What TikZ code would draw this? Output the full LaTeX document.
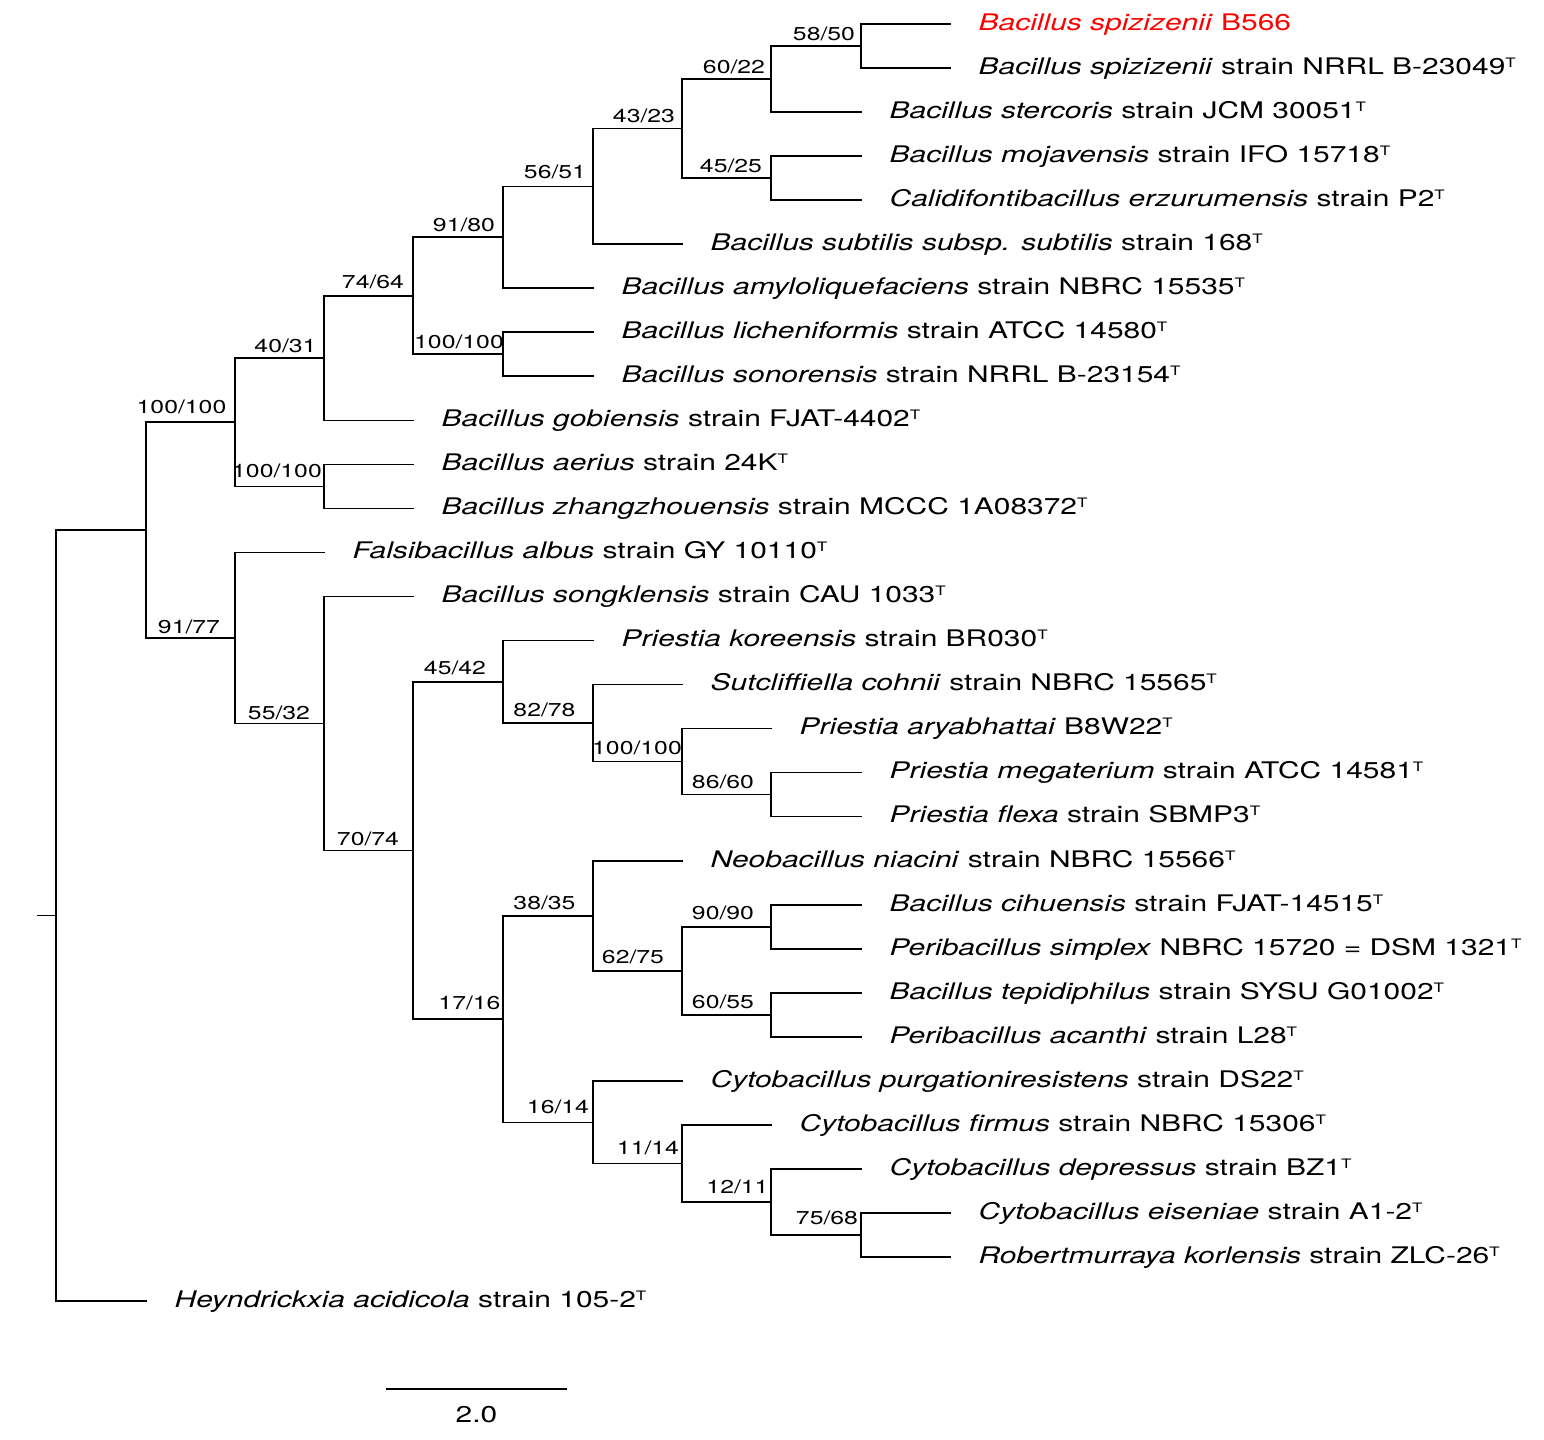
\documentclass[tikz,border=0pt]{standalone}
\usepackage{fontspec}
\setmainfont[FakeStretch=1.31]{TeX Gyre Heros}
\newfontfamily\bootfont[FakeStretch=1.33]{TeX Gyre Heros}
\usetikzlibrary{positioning}
\definecolor{focusred}{RGB}{255,0,0}
\tikzstyle{branch} = [line width=0.45pt, line cap=rect]
\tikzstyle{taxon} = [anchor=west, inner sep=0pt, text height=0.166cm, text depth=0.04cm, font=\fontsize{6.5}{7}\selectfont]
\tikzstyle{boot} = [anchor=base, inner sep=0pt, font=\bootfont\fontsize{5.3}{6}\selectfont]
\newcommand{\typestr}{\raisebox{2pt}{\fontsize{3.7}{4}\selectfont T}}

\begin{document}
\begin{tikzpicture}[x=0.01cm, y=-0.01cm, node distance=0.28cm]
\useasboundingbox (0,0) rectangle (1544,1440);

% tips
\coordinate (tip1) at (950,24);
\coordinate (tip2) at (950,68);
\coordinate (tip3) at (861,112.1);
\coordinate (tip4) at (861,156.1);
\coordinate (tip5) at (861,200.2);
\coordinate (tip6) at (682,244.2);
\coordinate (tip7) at (593,288.2);
\coordinate (tip8) at (593,332.3);
\coordinate (tip9) at (593,376.3);
\coordinate (tip10) at (413,420.4);
\coordinate (tip11) at (413,464.4);
\coordinate (tip12) at (413,508.4);
\coordinate (tip13) at (324,552.5);
\coordinate (tip14) at (413,596.5);
\coordinate (tip15) at (593,640.6);
\coordinate (tip16) at (682,684.6);
\coordinate (tip17) at (771,728.6);
\coordinate (tip18) at (861,772.7);
\coordinate (tip19) at (861,816.7);
\coordinate (tip20) at (682,860.8);
\coordinate (tip21) at (861,904.8);
\coordinate (tip22) at (861,948.8);
\coordinate (tip23) at (861,992.9);
\coordinate (tip24) at (861,1036.9);
\coordinate (tip25) at (682,1081);
\coordinate (tip26) at (771,1125);
\coordinate (tip27) at (861,1169);
\coordinate (tip28) at (950,1213.1);
\coordinate (tip29) at (950,1257.1);
\coordinate (tip30) at (146,1301.2);

% inner nodes
\coordinate (n1) at (861,46);
\coordinate (n2) at (771,79);
\coordinate (n3) at (771,178.2);
\coordinate (n4) at (682,128.6);
\coordinate (n5) at (593,186.4);
\coordinate (n6) at (503,237.3);
\coordinate (n7) at (503,354.3);
\coordinate (n8) at (413,295.8);
\coordinate (n9) at (324,358.1);
\coordinate (n10) at (324,486.4);
\coordinate (n11) at (235,422.2);
\coordinate (n12) at (771,794.7);
\coordinate (n13) at (682,761.7);
\coordinate (n14) at (593,723.1);
\coordinate (n15) at (503,681.9);
\coordinate (n16) at (771,926.8);
\coordinate (n17) at (771,1014.9);
\coordinate (n18) at (682,970.8);
\coordinate (n19) at (593,915.8);
\coordinate (n20) at (861,1235.1);
\coordinate (n21) at (771,1202.1);
\coordinate (n22) at (682,1163.6);
\coordinate (n23) at (593,1122.3);
\coordinate (n24) at (503,1019);
\coordinate (n25) at (413,850.5);
\coordinate (n26) at (324,723.5);
\coordinate (n27) at (235,638);
\coordinate (n28) at (146,530.1);
\coordinate (root) at (56,915.6);
\coordinate (stub) at (38,915.6);

% branches
\draw[branch] (tip1) -| (n1) |- (tip2);
\draw[branch] (n1) -| (n2) |- (tip3);
\draw[branch] (tip4) -| (n3) |- (tip5);
\draw[branch] (n2) -| (n4) |- (n3);
\draw[branch] (n4) -| (n5) |- (tip6);
\draw[branch] (n5) -| (n6) |- (tip7);
\draw[branch] (tip8) -| (n7) |- (tip9);
\draw[branch] (n6) -| (n8) |- (n7);
\draw[branch] (n8) -| (n9) |- (tip10);
\draw[branch] (tip11) -| (n10) |- (tip12);
\draw[branch] (n9) -| (n11) |- (n10);
\draw[branch] (tip18) -| (n12) |- (tip19);
\draw[branch] (tip17) -| (n13) |- (n12);
\draw[branch] (tip16) -| (n14) |- (n13);
\draw[branch] (tip15) -| (n15) |- (n14);
\draw[branch] (tip21) -| (n16) |- (tip22);
\draw[branch] (tip23) -| (n17) |- (tip24);
\draw[branch] (n16) -| (n18) |- (n17);
\draw[branch] (tip20) -| (n19) |- (n18);
\draw[branch] (tip28) -| (n20) |- (tip29);
\draw[branch] (tip27) -| (n21) |- (n20);
\draw[branch] (tip26) -| (n22) |- (n21);
\draw[branch] (tip25) -| (n23) |- (n22);
\draw[branch] (n19) -| (n24) |- (n23);
\draw[branch] (n15) -| (n25) |- (n24);
\draw[branch] (tip14) -| (n26) |- (n25);
\draw[branch] (tip13) -| (n27) |- (n26);
\draw[branch] (n11) -| (n28) |- (n27);
\draw[branch] (n28) -| (root) |- (tip30);
\draw[branch] (stub) -- (root);

% bootstrap values
\node[boot] (bs1) at (824,41) {58/50};
\node[boot] (bs2) at (734,74) {60/22};
\node[boot] (bs3) at (731,173) {45/25};
\node[boot] (bs4) at (644,123) {43/23};
\node[boot] (bs5) at (555,178.5) {56/51};
\node[boot] (bs6) at (464,232) {91/80};
\node[boot] (bs7) at (459,348.5) {100/100};
\node[boot] (bs8) at (373,288.5) {74/64};
\node[boot] (bs9) at (285.5,352.5) {40/31};
\node[boot] (bs10) at (277,478) {100/100};
\node[boot] (bs11) at (181.5,413.5) {100/100};
\node[boot] (bs12) at (723,788.5) {86/60};
\node[boot] (bs13) at (637,755) {100/100};
\node[boot] (bs14) at (544.5,716.7) {82/78};
\node[boot] (bs15) at (455,675) {45/42};
\node[boot] (bs16) at (723,920) {90/90};
\node[boot] (bs17) at (723,1008.3) {60/55};
\node[boot] (bs18) at (633,963.5) {62/75};
\node[boot] (bs19) at (544.5,909.3) {38/35};
\node[boot] (bs20) at (827,1225) {75/68};
\node[boot] (bs21) at (737.5,1193.3) {12/11};
\node[boot] (bs22) at (648,1155) {11/14};
\node[boot] (bs23) at (558,1113.3) {16/14};
\node[boot] (bs24) at (469.5,1010) {17/16};
\node[boot] (bs25) at (368,846) {70/74};
\node[boot] (bs26) at (279,719.3) {55/32};
\node[boot] (bs27) at (189,633.3) {91/77};

% taxa
\node[taxon, right=of tip1, text=focusred] (tax1) {\textit{Bacillus spizizenii} B566};
\node[taxon, right=of tip2] (tax2) {\textit{Bacillus spizizenii} strain NRRL B-23049\typestr};
\node[taxon, right=of tip3] (tax3) {\textit{Bacillus stercoris} strain JCM 30051\typestr};
\node[taxon, right=of tip4] (tax4) {\textit{Bacillus mojavensis} strain IFO 15718\typestr};
\node[taxon, right=of tip5] (tax5) {\textit{Calidifontibacillus erzurumensis} strain P2\typestr};
\node[taxon, right=of tip6] (tax6) {\textit{Bacillus subtilis subsp. subtilis} strain 168\typestr};
\node[taxon, right=of tip7] (tax7) {\textit{Bacillus amyloliquefaciens} strain NBRC 15535\typestr};
\node[taxon, right=of tip8] (tax8) {\textit{Bacillus licheniformis} strain ATCC 14580\typestr};
\node[taxon, right=of tip9] (tax9) {\textit{Bacillus sonorensis} strain NRRL B-23154\typestr};
\node[taxon, right=of tip10] (tax10) {\textit{Bacillus gobiensis} strain FJAT-4402\typestr};
\node[taxon, right=of tip11] (tax11) {\textit{Bacillus aerius} strain 24K\typestr};
\node[taxon, right=of tip12] (tax12) {\textit{Bacillus zhangzhouensis} strain MCCC 1A08372\typestr};
\node[taxon, right=of tip13] (tax13) {\textit{Falsibacillus albus} strain GY 10110\typestr};
\node[taxon, right=of tip14] (tax14) {\textit{Bacillus songklensis} strain CAU 1033\typestr};
\node[taxon, right=of tip15] (tax15) {\textit{Priestia koreensis} strain BR030\typestr};
\node[taxon, right=of tip16] (tax16) {\textit{Sutcliffiella cohnii} strain NBRC 15565\typestr};
\node[taxon, right=of tip17] (tax17) {\textit{Priestia aryabhattai} B8W22\typestr};
\node[taxon, right=of tip18] (tax18) {\textit{Priestia megaterium} strain ATCC 14581\typestr};
\node[taxon, right=of tip19] (tax19) {\textit{Priestia flexa} strain SBMP3\typestr};
\node[taxon, right=of tip20] (tax20) {\textit{Neobacillus niacini} strain NBRC 15566\typestr};
\node[taxon, right=of tip21] (tax21) {\textit{Bacillus cihuensis} strain FJAT-14515\typestr};
\node[taxon, right=of tip22] (tax22) {\textit{Peribacillus simplex} NBRC 15720 = DSM 1321\typestr};
\node[taxon, right=of tip23] (tax23) {\textit{Bacillus tepidiphilus} strain SYSU G01002\typestr};
\node[taxon, right=of tip24] (tax24) {\textit{Peribacillus acanthi} strain L28\typestr};
\node[taxon, right=of tip25] (tax25) {\textit{Cytobacillus purgationiresistens} strain DS22\typestr};
\node[taxon, right=of tip26] (tax26) {\textit{Cytobacillus firmus} strain NBRC 15306\typestr};
\node[taxon, right=of tip27] (tax27) {\textit{Cytobacillus depressus} strain BZ1\typestr};
\node[taxon, right=of tip28] (tax28) {\textit{Cytobacillus eiseniae} strain A1-2\typestr};
\node[taxon, right=of tip29] (tax29) {\textit{Robertmurraya korlensis} strain ZLC-26\typestr};
\node[taxon, right=of tip30] (tax30) {\textit{Heyndrickxia acidicola} strain 105-2\typestr};

% scale bar
\coordinate (bar0) at (387,1389);
\coordinate (bar1) at (566,1389);
\draw[branch] (bar0) -- (bar1);
\node[anchor=base, inner sep=0pt, font=\fontsize{6.5}{7}\selectfont] (barlabel) at (476.5,1423) {2.0};
\end{tikzpicture}
\end{document}
